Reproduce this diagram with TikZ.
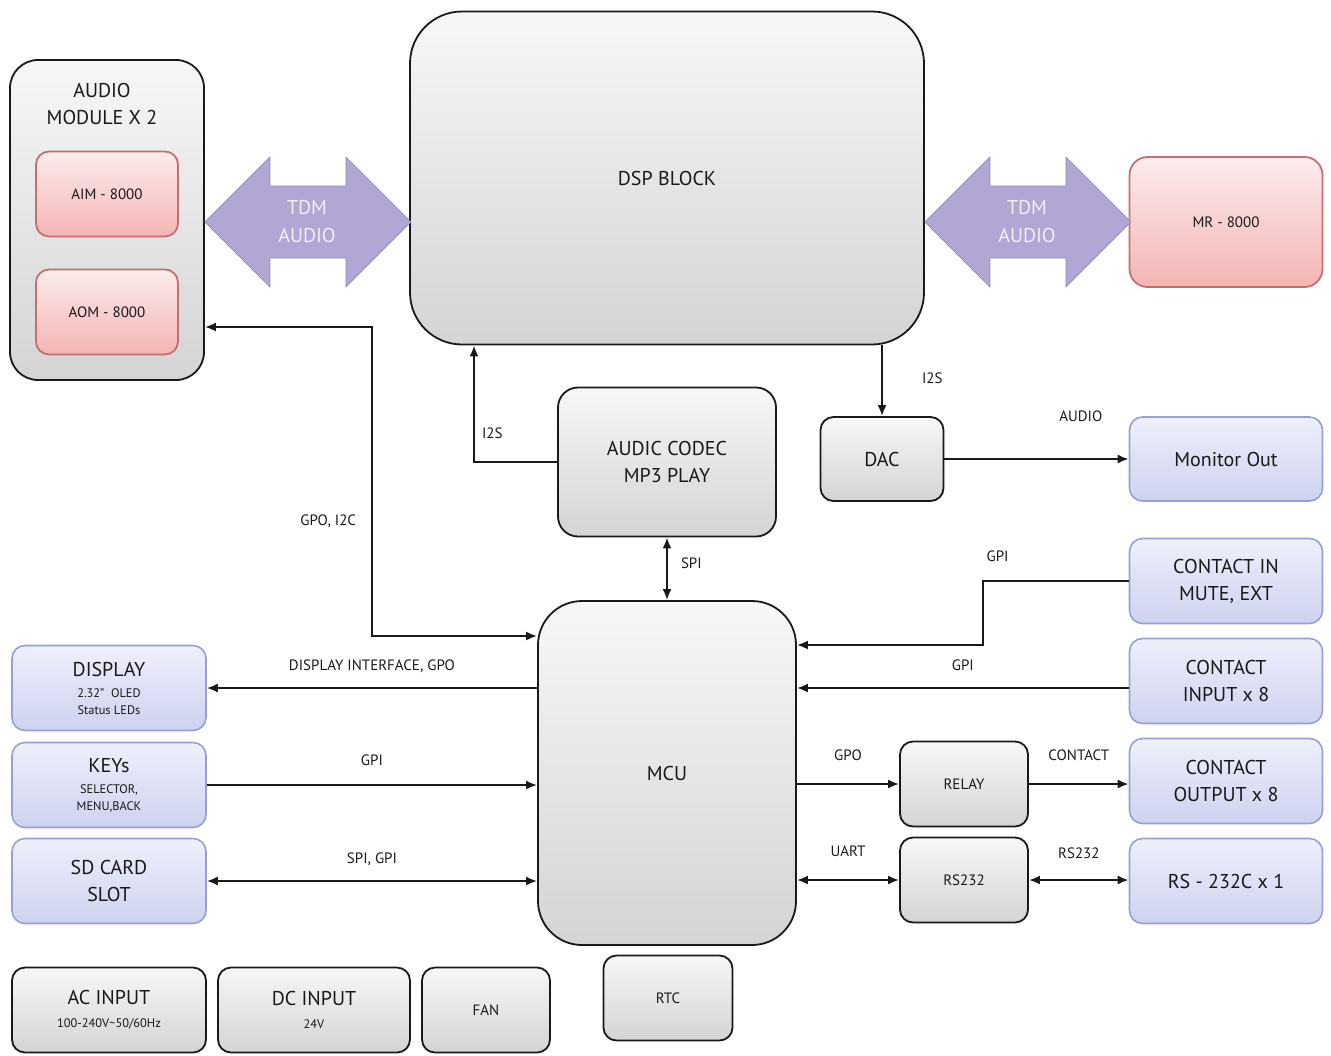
\documentclass[tikz,border=0pt]{standalone}
\usepackage{fontspec}
\setmainfont{PT Sans}
\usepackage{xcolor}
\usepackage{tikz}
\usetikzlibrary{arrows.meta, positioning}

\definecolor{tdmpurple}{RGB}{178,166,212}
\definecolor{graytop}{RGB}{247,247,247}
\definecolor{graybot}{RGB}{212,212,212}
\definecolor{pinktop}{RGB}{252,236,236}
\definecolor{pinkbot}{RGB}{244,180,180}
\definecolor{pinkline}{RGB}{196,112,112}
\definecolor{bluetop}{RGB}{238,240,251}
\definecolor{bluebot}{RGB}{206,210,239}
\definecolor{blueline}{RGB}{150,160,212}
\definecolor{inkgray}{RGB}{25,25,25}

\newcommand{\bigtxt}{\fontsize{10}{13.5}\selectfont}
\newcommand{\midtxt}{\fontsize{7.5}{9}\selectfont}
\newcommand{\subtxt}{\fontsize{6.2}{8}\selectfont}

\begin{document}
\begin{tikzpicture}[
    x=0.5pt, y=-0.5pt,
    >={Latex[length=5.5pt, width=4.5pt]},
    box/.style={rectangle, rounded corners=6.5pt, line width=0.9pt, align=center, text=inkgray, inner sep=2pt},
    graybox/.style={box, draw=inkgray, top color=graytop, bottom color=graybot},
    pinkbox/.style={box, draw=pinkline, top color=pinktop, bottom color=pinkbot},
    bluebox/.style={box, draw=blueline, line width=0.8pt, top color=bluetop, bottom color=bluebot},
    arrow/.style={->, line width=1pt, inkgray},
    biarrow/.style={<->, line width=1pt, inkgray},
    lbl/.style={font=\midtxt, text=inkgray, inner sep=1.5pt, text height=1.5ex, text depth=0.2ex},
    tdm/.style={fill=tdmpurple, draw=tdmpurple!85!black, line width=0.4pt},
    tdmtext/.style={font=\fontsize{10}{14}\selectfont, text=white!82!tdmpurple, align=center}
]
\useasboundingbox (0,0) rectangle (1331,1055);

\node[graybox, rounded corners=14pt, minimum width=97pt, minimum height=160pt] (audio) at (107,220) {};
\node[font=\bigtxt, text=inkgray, align=center] (audiotitle) at (102,104) {AUDIO\\MODULE X 2};
\node[pinkbox, font=\midtxt, minimum width=71pt, minimum height=42.5pt] (aim) at (107,194) {AIM - 8000};
\node[pinkbox, font=\midtxt, minimum width=71pt, minimum height=42.5pt] (aom) at (107,312) {AOM - 8000};

\node[graybox, rounded corners=26pt, font=\bigtxt, minimum width=257pt, minimum height=166.5pt] (dsp) at (667,178) {DSP BLOCK};
\node[pinkbox, rounded corners=9pt, font=\midtxt, minimum width=96.5pt, minimum height=65pt] (mr) at (1226,222) {MR - 8000};

\draw[tdm] (audio.east |- 0,222) -- ++(65,-65) -- ++(0,29) -- ++(76,0) -- ++(0,-29) -- ++(65,65) -- ++(-65,65) -- ++(0,-29) -- ++(-76,0) -- ++(0,29) -- cycle;
\node[tdmtext] (tdmleft) at (307,222) {TDM\\AUDIO};
\draw[tdm] (dsp.east |- 0,222) -- ++(65,-65) -- ++(0,29) -- ++(76,0) -- ++(0,-29) -- ++(65,65) -- ++(-65,65) -- ++(0,-29) -- ++(-76,0) -- ++(0,29) -- cycle;
\node[tdmtext] (tdmright) at (1027,222) {TDM\\AUDIO};

\node[graybox, rounded corners=10pt, font=\bigtxt, minimum width=109pt, minimum height=74.5pt] (codec) at (667,462) {AUDIC CODEC\\MP3 PLAY};
\node[graybox, font=\bigtxt, minimum width=61.5pt, minimum height=42pt] (dac) at (882,459) {DAC};
\node[bluebox, font=\bigtxt, minimum width=96.5pt, minimum height=42pt] (monitor) at (1226,459) {Monitor Out};

\node[graybox, rounded corners=22pt, font=\bigtxt, minimum width=129pt, minimum height=172pt] (mcu) at (667,773) {MCU};

\node[bluebox, font=\bigtxt, minimum width=97pt, minimum height=42.5pt] (display) at (109,688) {DISPLAY\\[-3pt]\subtxt 2.32''\ \ OLED\\[-5pt]\subtxt Status LEDs};
\node[bluebox, font=\bigtxt, minimum width=97pt, minimum height=42.5pt] (keys) at (109,785) {KEYs\\[-3pt]\subtxt SELECTOR,\\[-5pt]\subtxt MENU,BACK};
\node[bluebox, font=\bigtxt, minimum width=97pt, minimum height=42.5pt] (sdcard) at (109,881) {SD CARD\\SLOT};

\node[bluebox, font=\bigtxt, minimum width=96.5pt, minimum height=42.5pt] (contactin) at (1226,581) {CONTACT IN\\MUTE, EXT};
\node[bluebox, font=\bigtxt, minimum width=96.5pt, minimum height=42.5pt] (contactinput) at (1226,681) {CONTACT\\INPUT x 8};
\node[bluebox, font=\bigtxt, minimum width=96.5pt, minimum height=42.5pt] (contactoutput) at (1226,781) {CONTACT\\OUTPUT x 8};
\node[bluebox, font=\bigtxt, minimum width=96.5pt, minimum height=42.5pt] (rs232c) at (1226,881) {RS - 232C x 1};

\node[graybox, font=\midtxt, minimum width=64pt, minimum height=42.5pt] (relay) at (964,784) {RELAY};
\node[graybox, font=\midtxt, minimum width=64pt, minimum height=42.5pt] (rs232) at (964,880) {RS232};

\node[graybox, font=\bigtxt, minimum width=97pt, minimum height=42.5pt] (acin) at (109,1010) {AC INPUT\\[-2pt]\subtxt 100-240V\textasciitilde 50/60Hz};
\node[graybox, font=\bigtxt, minimum width=96pt, minimum height=42.5pt] (dcin) at (314,1010) {DC INPUT\\[-2pt]\subtxt 24V};
\node[graybox, font=\midtxt, minimum width=64pt, minimum height=42.5pt] (fan) at (486,1010) {FAN};
\node[graybox, font=\midtxt, minimum width=64.5pt, minimum height=42.5pt] (rtc) at (668,998) {RTC};

\draw[arrow] (codec.west) -| node[lbl, pos=0.63, right=2pt] {I2S} (dsp.south -| 474,0);
\draw[arrow] (dsp.south -| dac) -- node[lbl, pos=0.44, right=18pt] {I2S} (dac);
\draw[arrow] (dac) -- node[lbl, pos=0.74, above=16pt] {AUDIO} (monitor);
\draw[biarrow] (codec) -- node[lbl, pos=0.39, right=5pt] {SPI} (mcu);

\draw[biarrow] (audio.east |- 0,327) -| node[lbl, pos=0.81, left=6pt] {GPO, I2C} (372,636) -- (mcu.west |- 0,636);
\draw[arrow] (mcu.west |- display) -- node[lbl, above=6pt] {DISPLAY INTERFACE, GPO} (display);
\draw[arrow] (keys) -- node[lbl, above=7pt] {GPI} (mcu.west |- keys);
\draw[biarrow] (sdcard) -- node[lbl, above=6pt] {SPI, GPI} (mcu.west |- sdcard);

\draw[arrow] (contactin) -| node[lbl, pos=0.45, above=7pt] {GPI} (983,645) -- (mcu.east |- 0,645);
\draw[arrow] (contactinput.west |- 0,688) -- node[lbl, above=6pt] {GPI} (mcu.east |- 0,688);
\draw[arrow] (mcu.east |- relay) -- node[lbl, above=9pt] {GPO} (relay);
\draw[arrow] (relay) -- node[lbl, above=9pt] {CONTACT} (contactoutput.west |- relay);
\draw[biarrow] (mcu.east |- rs232) -- node[lbl, above=9pt] {UART} (rs232);
\draw[biarrow] (rs232) -- node[lbl, above=8pt] {RS232} (rs232c.west |- rs232);

\end{tikzpicture}
\end{document}
